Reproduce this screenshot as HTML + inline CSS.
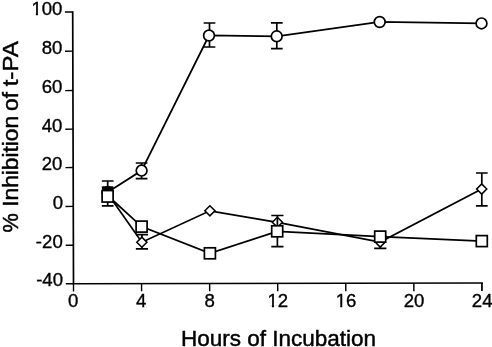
<!DOCTYPE html>
<html><head><meta charset="utf-8"><title>Chart</title>
<style>html,body{margin:0;padding:0;background:#fff}svg{display:block}</style></head>
<body><svg width="492" height="347" viewBox="0 0 492 347">
<rect width="492" height="347" fill="#fff"/>
<g stroke="#000" stroke-width="1.7" fill="none" stroke-linecap="butt">
<path d="M72.70 11.2L73.50 283.75L483 283.00" stroke-linejoin="miter"/>
<path d="M64.90 12.05L72.70 11.95" stroke-width="1.4"/>
<path d="M65.03 51.25L72.82 51.150000000000006" stroke-width="1.4"/>
<path d="M65.16 90.64999999999999L72.93 90.55" stroke-width="1.4"/>
<path d="M65.29 129.20000000000002L73.05 129.1" stroke-width="1.4"/>
<path d="M65.41 167.65L73.16 167.54999999999998" stroke-width="1.4"/>
<path d="M65.54 206.5L73.27 206.39999999999998" stroke-width="1.4"/>
<path d="M65.67 245.3L73.39 245.2" stroke-width="1.4"/>
<path d="M65.80 283.8L73.50 283.7" stroke-width="1.4"/>
<path d="M73.50 283.75L73.52 291.40" stroke-width="1.4"/>
<path d="M141.57 283.63L141.59 291.35" stroke-width="1.4"/>
<path d="M209.64 283.50L209.66 291.30" stroke-width="1.4"/>
<path d="M277.70 283.38L277.72 291.25" stroke-width="1.4"/>
<path d="M345.77 283.25L345.79 291.20" stroke-width="1.4"/>
<path d="M413.84 283.13L413.86 291.15" stroke-width="1.4"/>
<path d="M481.91 283.00L481.93 291.10" stroke-width="1.75"/>
</g>
<g font-family="'Liberation Sans', Arial, Helvetica, sans-serif" font-size="18.6" fill="#000" stroke="#000" stroke-width="0.35">
<text x="31.38" y="14.60">100</text>
<text x="41.70" y="53.50">80</text>
<text x="41.70" y="92.90">60</text>
<text x="41.70" y="131.80">40</text>
<text x="41.70" y="170.05">20</text>
<text x="52.82" y="208.50">0</text>
<text x="35.87" y="247.60">-20</text>
<text x="36.17" y="286.10">-40</text>
<text x="73.10" y="307.10" text-anchor="middle">0</text>
<text x="141.17" y="307.02" text-anchor="middle">4</text>
<text x="209.69" y="306.93" text-anchor="middle">8</text>
<text x="277.75" y="306.85" text-anchor="middle">12</text>
<text x="346.07" y="306.77" text-anchor="middle">16</text>
<text x="414.14" y="306.68" text-anchor="middle">20</text>
<text x="482.21" y="306.60" text-anchor="middle">24</text>
</g>
<rect x="31.94" y="12.86" width="3.91" height="3.40" fill="#fff"/>
<rect x="37.93" y="12.86" width="3.91" height="3.40" fill="#fff"/>
<rect x="267.97" y="305.10" width="3.91" height="3.40" fill="#fff"/>
<rect x="273.96" y="305.10" width="3.91" height="3.40" fill="#fff"/>
<rect x="336.29" y="305.02" width="3.91" height="3.40" fill="#fff"/>
<rect x="342.28" y="305.02" width="3.91" height="3.40" fill="#fff"/>
<text x="180.90" y="345.7" font-family="'Liberation Sans', Arial, Helvetica, sans-serif" font-size="22.5" stroke="#000" stroke-width="0.45" textLength="195.10" lengthAdjust="spacingAndGlyphs">Hours of Incubation</text>
<g transform="translate(17.6 0) rotate(-90)" font-family="'Liberation Sans', Arial, Helvetica, sans-serif" font-size="22.2" stroke="#000" stroke-width="0.45"><title>% Inhibition of t-PA</title>
<text x="-232.56" y="0" textLength="19.30" lengthAdjust="spacingAndGlyphs">%</text>
<text x="-206.74" y="0" textLength="90.78" lengthAdjust="spacingAndGlyphs">Inhibition</text>
<text x="-110.91" y="0" textLength="18.99" lengthAdjust="spacingAndGlyphs">of</text>
<text x="-86.36" y="0" textLength="45.30" lengthAdjust="spacingAndGlyphs">t-PA</text>
</g>
<g stroke="#000" stroke-width="1.7" fill="#fff" stroke-linejoin="miter">
<g fill="none" stroke-width="1.75"><polyline points="107.60,192.30 141.60,170.60 209.00,35.50 276.70,36.30 379.70,22.00 481.50,23.40"/></g>
<path d="M107.60 187.4V197M101.75 187.4h11.7M101.75 197h11.7"/>
<path d="M141.60 163.0V178.7M135.75 163.0h11.7M135.75 178.7h11.7"/>
<path d="M209.50 23.0V47.0M203.65 23.0h11.7M203.65 47.0h11.7"/>
<path d="M276.80 22.8V48.6M270.95 22.8h11.7M270.95 48.6h11.7"/>
<circle cx="107.6" cy="192.3" r="5.4" stroke-width="1.7"/>
<circle cx="141.6" cy="170.6" r="5.4" stroke-width="1.7"/>
<circle cx="209.0" cy="35.5" r="5.4" stroke-width="1.7"/>
<circle cx="276.7" cy="36.3" r="5.4" stroke-width="1.7"/>
<circle cx="379.7" cy="22.0" r="5.4" stroke-width="1.7"/>
<circle cx="481.5" cy="23.4" r="5.4" stroke-width="1.7"/>
<g fill="none" stroke-width="1.75"><polyline points="107.60,193.40 141.85,242.20 209.90,210.80 277.40,222.30 380.20,242.10 481.70,189.00"/></g>
<path d="M107.70 181.0V205.8M101.85 181.0h11.7M101.85 205.8h11.7"/>
<path d="M141.95 234.7V248.8M135.85 234.7h12.2M135.85 248.8h12.2"/>
<path d="M380.30 236.0V248.3M374.20 236.0h12.2M374.20 248.3h12.2"/>
<path d="M481.80 173.0V205.9M475.95 173.0h11.7M475.95 205.9h11.7"/>
<path d="M102.55 193.4L107.6 188.35L112.64999999999999 193.4L107.6 198.45000000000002Z" stroke-width="1.55"/>
<path d="M136.79999999999998 242.2L141.85 237.14999999999998L146.9 242.2L141.85 247.25Z" stroke-width="1.55"/>
<path d="M204.85 210.8L209.9 205.75L214.95000000000002 210.8L209.9 215.85000000000002Z" stroke-width="1.55"/>
<path d="M272.34999999999997 222.3L277.4 217.25L282.45 222.3L277.4 227.35000000000002Z" stroke-width="1.55"/>
<path d="M375.15 242.1L380.2 237.04999999999998L385.25 242.1L380.2 247.15Z" stroke-width="1.55"/>
<path d="M476.65 189.0L481.7 183.95L486.75 189.0L481.7 194.05Z" stroke-width="1.55"/>
<path d="M102.3 191L102 187.9L102.6 186.4H112.6L113.2 187.9L112.9 191Z" fill="#000" stroke="none"/>
<g fill="none" stroke-width="1.75"><polyline points="107.60,195.50 141.60,226.60 209.90,253.30 277.20,231.30 380.20,236.60 481.80,241.10"/></g>
<path d="M277.40 215.5V246.6M271.30 215.5h12.2M271.30 246.6h12.2"/>
<rect x="102.10" y="190.55" width="11.0" height="11.5" stroke-width="1.7"/>
<rect x="136.10" y="221.10" width="11.0" height="11.0" stroke-width="1.7"/>
<rect x="204.40" y="247.80" width="11.0" height="11.0" stroke-width="1.7"/>
<rect x="271.70" y="225.80" width="11.0" height="11.0" stroke-width="1.7"/>
<rect x="374.70" y="231.10" width="11.0" height="11.0" stroke-width="1.7"/>
<rect x="476.30" y="235.60" width="11.0" height="11.0" stroke-width="1.7"/>
</g>
</svg></body></html>
